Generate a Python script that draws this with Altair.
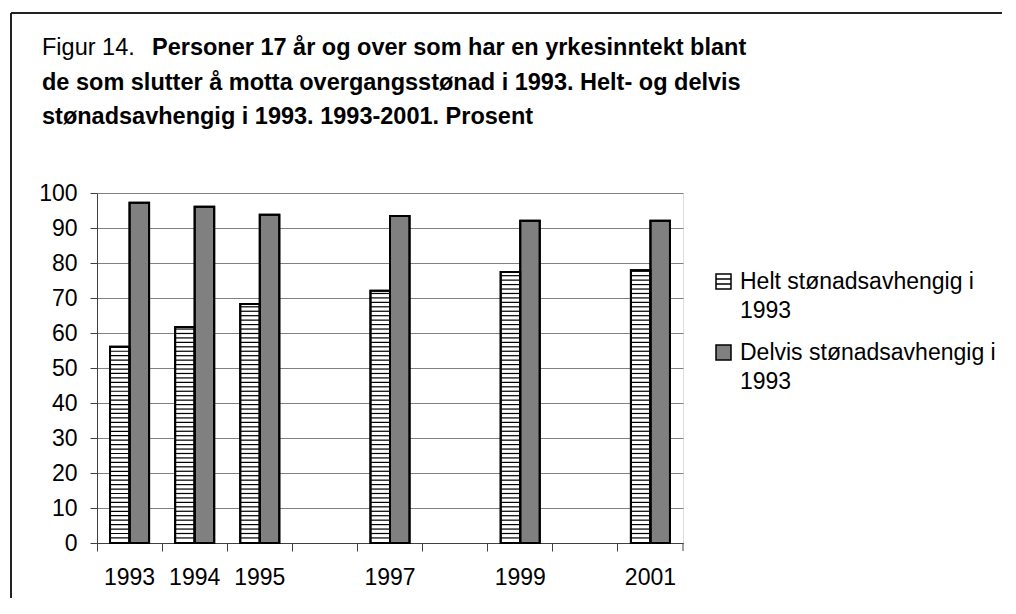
import json
import altair as alt
import pandas as pd

# ---- data ----
all_years = ["1993", "1994", "1995", "1996", "1997", "1998", "1999", "2000", "2001"]
years = ["1993", "1994", "1995", "1997", "1999", "2001"]
helt = [56.1, 61.7, 68.3, 72.1, 77.4, 77.9]
delvis = [97.2, 96.1, 93.8, 93.4, 92.1, 92.1]
series = ["Helt stønadsavhengig i 1993", "Delvis stønadsavhengig i 1993"]
y_ticks = list(range(0, 101, 10))

title_prefix = "Figur 14."
title_lines = [
    "Personer 17 år og over som har en yrkesinntekt blant",
    "de som slutter å motta overgangsstønad i 1993. Helt- og delvis",
    "stønadsavhengig i 1993. 1993-2001. Prosent",
]

rows = []
for yr, h, d in zip(years, helt, delvis):
    rows.append({"year": yr, "series": series[0], "value": h})
    rows.append({"year": yr, "series": series[1], "value": d})
df = pd.DataFrame(rows)

FONT = "Liberation Sans"
W, H = 586, 350
AX = "#404040"
GRID = "#808080"
LBL = 23
TTL = 23.5

STRIPED_SQUARE = "M-1,-1H1V1H-1Z M-1,-0.33H1 M-1,0.33H1"


def x_enc():
    return alt.X(
        "year:N",
        scale=alt.Scale(domain=all_years, paddingInner=0, paddingOuter=0),
        axis=alt.Axis(
            title=None, bandPosition=0, labelAngle=0, tickSize=8, labelPadding=15,
            labelFontSize=LBL, labelFont=FONT, labelColor="black",
            domainColor=AX, tickColor=AX, grid=False,
            labelExpr="indexof(%s, datum.value) >= 0 ? datum.value : ''" % json.dumps(years),
        ),
    )


def xoff_enc():
    return alt.XOffset(
        "series:N", scale=alt.Scale(domain=series, paddingInner=0, paddingOuter=0.667)
    )


def y_axis():
    return alt.Axis(
        title=None, values=y_ticks, grid=True, gridColor=GRID, gridWidth=1,
        tickSize=7, labelPadding=13, labelFontSize=LBL, labelFont=FONT,
        labelColor="black", domainColor=AX, tickColor=AX,
    )


def legend():
    return alt.Legend(
        title=None, orient="none", legendX=615, legendY=77,
        symbolSize=225, symbolStrokeColor="black",
        symbolStrokeWidth=1.5, labelFontSize=LBL, labelFont=FONT,
        labelColor="black", labelLimit=400, labelOffset=5, rowPadding=18,
        padding=0,
        labelExpr="[slice(datum.label, 0, -5), slice(datum.label, -4)]",
    )


fill_scale = alt.Scale(domain=series, range=["white", "#808080"])
yscale = alt.Scale(domain=[0, 100], nice=False)

base = alt.Chart(df)

bars = base.mark_bar(stroke="black", strokeWidth=2).encode(
    x=x_enc(),
    xOffset=xoff_enc(),
    y=alt.Y("value:Q", scale=yscale, axis=y_axis()),
    fill=alt.Fill("series:N", scale=fill_scale, legend=legend()),
)

stripes = (
    base.transform_filter(alt.datum.series == series[0])
    .transform_calculate(s="sequence(1.27, datum.value, 1.27)")
    .transform_flatten(["s"])
    .transform_calculate(s2="min(datum.s + 0.35, datum.value)")
    .mark_bar(fill="black")
    .encode(
        x=x_enc(),
        xOffset=xoff_enc(),
        y=alt.Y("s:Q", scale=yscale, axis=y_axis()),
        y2="s2:Q",
    )
)

outline = base.mark_bar(fillOpacity=0, stroke="black", strokeWidth=2).encode(
    x=x_enc(),
    xOffset=xoff_enc(),
    y=alt.Y("value:Q", scale=yscale, axis=y_axis()),
)

# invisible points: only give the legend its patterned symbols
legend_pts = base.mark_point(filled=True, size=0, opacity=1, strokeWidth=0).encode(
    x=x_enc(),
    xOffset=xoff_enc(),
    y=alt.Y("value:Q", scale=yscale, axis=y_axis()),
    fill=alt.Fill("series:N", scale=fill_scale, legend=legend()),
    shape=alt.Shape("series:N", scale=alt.Scale(domain=series, range=[STRIPED_SQUARE, "square"]),
                    legend=legend()),
)

one = alt.Chart(pd.DataFrame({"k": [0]}))

end_tick = one.mark_rule(color=AX, strokeWidth=1).encode(
    x=alt.value(W), y=alt.value(H), y2=alt.value(H + 8)
)
border_left = one.mark_rule(color="#222222", strokeWidth=2).encode(
    x=alt.value(-86), y=alt.value(-180), y2=alt.value(405)
)
border_top = one.mark_rule(color="#222222", strokeWidth=2).encode(
    x=alt.value(-86), x2=alt.value(905), y=alt.value(-180)
)

t0 = one.mark_text(align="left", baseline="alphabetic", font=FONT, fontSize=TTL,
                   text=title_prefix, color="black").encode(x=alt.value(-55), y=alt.value(-138))
t1 = one.mark_text(align="left", baseline="alphabetic", font=FONT, fontSize=TTL,
                   fontWeight="bold", text=title_lines[0], color="black").encode(
    x=alt.value(55), y=alt.value(-138))
t2 = one.mark_text(align="left", baseline="alphabetic", font=FONT, fontSize=TTL,
                   fontWeight="bold", text=title_lines[1], color="black").encode(
    x=alt.value(-55), y=alt.value(-103))
t3 = one.mark_text(align="left", baseline="alphabetic", font=FONT, fontSize=TTL,
                   fontWeight="bold", text=title_lines[2], color="black").encode(
    x=alt.value(-55), y=alt.value(-69))

chart = (
    alt.layer(bars, stripes, outline, legend_pts, end_tick, border_left, border_top,
              t0, t1, t2, t3)
    .properties(width=W, height=H, padding={"left": 2, "top": 4, "right": 0, "bottom": 0})
    .configure_view(stroke=GRID, strokeWidth=1)
    .configure(background="white", style={"guide-label": {"lineHeight": 29}})
)

chart.save("out.html", embed_options={"renderer": "svg", "actions": False})
